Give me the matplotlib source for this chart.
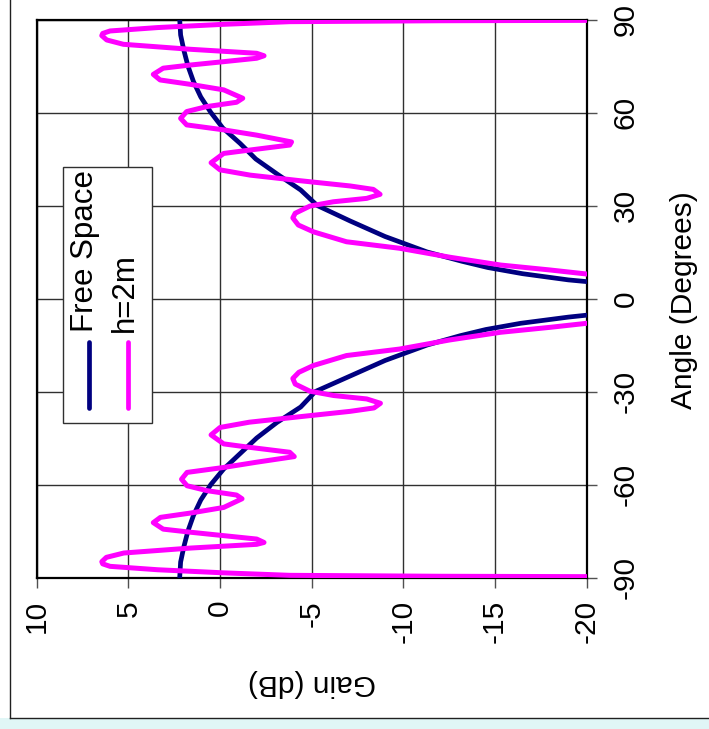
import matplotlib
matplotlib.use("Agg")
from matplotlib import pyplot as plt
from matplotlib.lines import Line2D
from matplotlib.patches import Rectangle

plt.rcParams['font.family'] = ['Liberation Sans', 'DejaVu Sans']
plt.rcParams['axes.unicode_minus'] = False

# Free Space pattern (angle in degrees, gain in dB)
fs_angle = [90, 85, 80, 75, 70, 65, 60, 55, 50, 45, 40, 35, 30, 25, 20, 15, 12, 10, 8, 6, 5, 3, 0,
            -3, -5, -6, -8, -10, -12, -15, -20, -25, -30, -35, -40, -45, -50, -55, -60, -65, -70,
            -75, -80, -85, -90]
fs_gain = [2.2, 2.15, 1.97, 1.75, 1.45, 1.05, 0.5, -0.15, -1.1, -1.95, -3.15, -4.4, -5.3, -7.1, -9.0,
           -11.3, -13.2, -14.6, -16.5, -19.0, -20.8, -24, -30,
           -24, -20.6, -19.0, -16.4, -14.5, -13.1, -11.3, -9.0, -7.1, -5.2, -4.4, -3.1, -2.0, -1.1,
           -0.2, 0.5, 1.05, 1.45, 1.75, 1.97, 2.15, 2.2]

# h=2m pattern
h2_angle = [90.0, 89.8, 89.6, 89.3, 88.45, 87.4, 86.3, 85.5, 84.8, 83.4, 82.0, 80.4, 79.1, 78.3, 77.5,
            76.4, 75.3, 74.3, 72.3, 70.5, 69.1, 67.3, 64.6, 63.3, 61.9, 60.3, 58.1, 56.0, 54.4, 52.7,
            50.5, 49.5, 47.9, 46.8, 43.8, 41.5, 39.8, 38.0, 36.3, 35.2, 33.6, 32.3, 31.2, 29.8, 27.5,
            26.0, 23.7, 21.5, 18.3, 16.2, 13.3, 10.8, 9.2, 7.9, 5.0, 2.0, 0.0,
            -2.0, -5.0, -8.0, -9.3, -10.9, -13.4, -16.3, -18.4, -21.6, -23.8, -25.8, -27.6, -29.9,
            -31.3, -32.4, -33.8, -35.3, -36.4, -38.1, -39.9, -41.6, -44.0, -46.9, -48.0, -49.6,
            -51.0, -52.8, -54.5, -56.1, -58.3, -60.4, -62.0, -63.4, -64.6, -67.4, -69.2, -70.6,
            -72.3, -74.4, -75.4, -76.5, -77.6, -78.7, -79.3, -80.5, -82.1, -83.5, -84.9, -85.6,
            -86.4, -87.5, -88.5, -89.3, -89.6, -89.8, -90.0]
h2_gain = [-40, -25, -12, -3.8, -0.2, 3.4, 6.0, 6.4, 6.45, 6.18, 5.27, 1.64, -2.0, -2.4, -2.0,
           -0.2, 1.64, 3.1, 3.64, 3.27, 1.64, -0.2, -1.24, -0.9, 0.73, 1.82, 2.15, 1.82, -0.2, -2.0,
           -3.9, -3.8, -1.64, -0.2, 0.49, 0.0, -1.64, -4.36, -7.1, -8.36, -8.73, -8.0, -6.18, -4.9,
           -4.1, -3.97, -4.27, -5.1, -6.9, -9.8, -12.55, -15.3, -18.0, -20.0, -26, -34, -40,
           -34, -26, -20.0, -18.0, -15.3, -12.5, -9.8, -6.9, -5.1, -4.3, -3.97, -4.1, -4.9,
           -6.2, -8.0, -8.75, -8.4, -7.1, -4.4, -1.6, 0.0, 0.49, -0.2, -1.6, -3.8,
           -4.05, -2.0, -0.2, 1.8, 2.1, 1.8, 0.7, -0.9, -1.2, -0.2, 1.6, 3.25,
           3.64, 3.1, 1.6, -0.2, -2.0, -2.4, -2.0, 1.6, 5.25, 6.2, 6.45, 6.4,
           6.0, 3.4, -0.2, -3.8, -12, -25, -40]

fig = plt.figure(figsize=(7.09, 7.29), dpi=100)

# outer chart frame and bottom strip
fig.patches.append(Rectangle((0, 0), 1, 11 / 729, transform=fig.transFigure,
                             facecolor='#e0f6f6', edgecolor='none', zorder=0))
fig.lines.append(Line2D([10 / 709, 10 / 709], [11 / 729, 1], transform=fig.transFigure,
                        color='#202020', lw=1))
fig.lines.append(Line2D([10 / 709, 1], [11 / 729, 11 / 729], transform=fig.transFigure,
                        color='#202020', lw=1))

ax = fig.add_axes([36.7 / 709, 151.5 / 729, 550 / 709, 558 / 729])
ax.plot(fs_gain, fs_angle, color='#000080', lw=3.4, solid_capstyle='round', zorder=3)
ax.plot(h2_gain, h2_angle, color='#ff00ff', lw=3.6, solid_capstyle='round', zorder=4)

ax.set_xlim(10, -20)
ax.set_ylim(-90, 90)
ax.set_xticks([10, 5, 0, -5, -10, -15, -20])
ax.set_xticklabels(['10', '5', '0', '-5', '-10', '-15', '-20'])
ax.set_yticks([-90, -60, -30, 0, 30, 60, 90])
ax.set_yticklabels(['-90', '-60', '-30', '0', '30', '60', '90'])
ax.yaxis.tick_right()
ax.grid(True, color='#303030', lw=1.0)
for s in ax.spines.values():
    s.set_linewidth(1.6)
    s.set_color('black')
ax.tick_params(axis='both', direction='out', length=7.2, width=1, color='#505050',
               labelsize=21.5)
ax.tick_params(axis='x', pad=9, labelrotation=90)
ax.tick_params(axis='y', pad=11, labelrotation=90)
for lab in ax.get_yticklabels():
    lab.set_verticalalignment('center')

fig.text(684 / 709, 1 - 300 / 729, 'Angle (Degrees)', rotation=90, ha='center', va='center',
         fontsize=21.5)
fig.text(312 / 709, 1 - 683 / 729, 'Gain (dB)', rotation=180, ha='center', va='center',
         fontsize=21.5)

# legend drawn by hand because the whole chart is turned on its side
fig.patches.append(Rectangle((63 / 709, 1 - 423 / 729), 89 / 709, 256 / 729,
                             transform=fig.transFigure, facecolor='white',
                             edgecolor='#303030', lw=1, zorder=5))
legend_items = [('Free Space', '#000080', 89, 93), ('h=2m', '#ff00ff', 128, 133)]
for name, col, lx, tx in legend_items:
    fig.lines.append(Line2D([lx / 709, lx / 709], [1 - 408 / 729, 1 - 342 / 729],
                            transform=fig.transFigure, color=col, lw=3.4,
                            solid_capstyle='round', zorder=6))
    fig.text(tx / 709, 1 - 332 / 729, name, rotation=90, rotation_mode='anchor',
             ha='left', va='baseline', fontsize=22.5, zorder=6)

fig.savefig('out.png', dpi=100)
